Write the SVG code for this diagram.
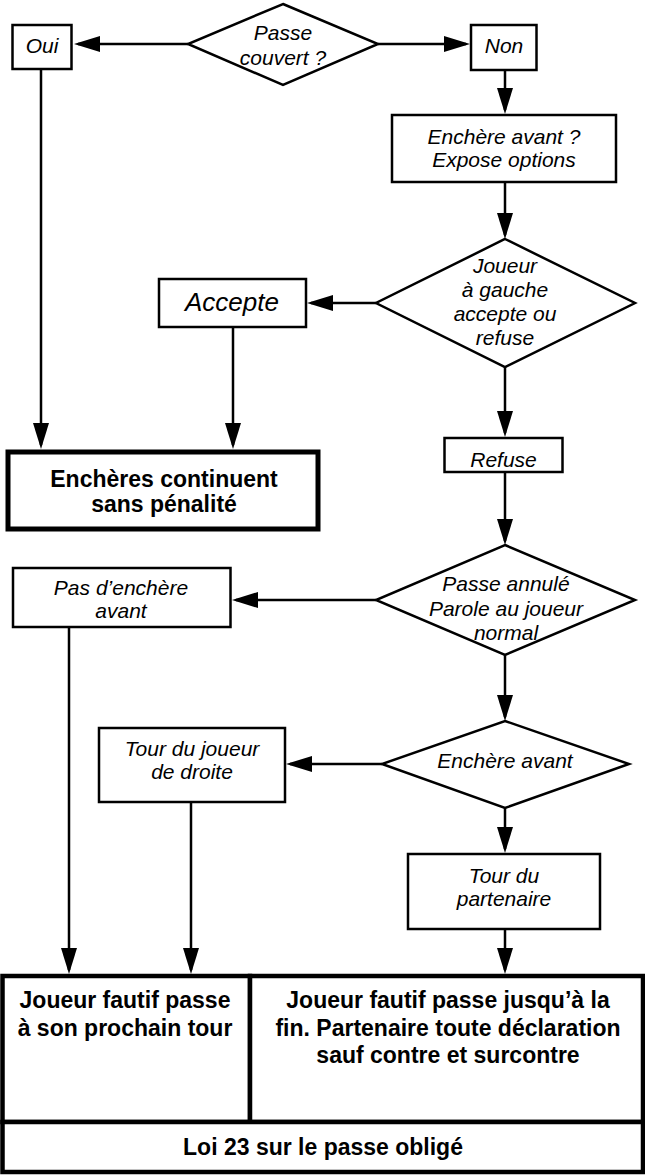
<svg xmlns="http://www.w3.org/2000/svg" width="645" height="1175" viewBox="0 0 645 1175">
<style>
.n{fill:#fff;stroke:#000;stroke-width:2.5}
.t{fill:#fff;stroke:#000;stroke-width:5}
.c{fill:none;stroke:#000;stroke-width:2.5}
text{font-family:"Liberation Sans",Arial,sans-serif;text-anchor:middle;fill:#000}
.i{font-style:italic;font-size:21px}
.b{font-weight:bold;font-size:23px}
</style>
<defs>
<marker id="ah" markerWidth="26" markerHeight="16" refX="22" refY="8" orient="auto" markerUnits="userSpaceOnUse"><path d="M0,0 L26,8 L0,16 z" fill="#000"/></marker>
</defs>
<rect width="645" height="1175" fill="#fff"/>
<g id="connectors" class="c" marker-end="url(#ah)">
<line x1="188" y1="44" x2="78" y2="44"/>
<line x1="378" y1="44" x2="466" y2="44"/>
<line x1="505" y1="71" x2="505" y2="110"/>
<line x1="505" y1="182" x2="505" y2="235"/>
<line x1="376" y1="303" x2="311" y2="303"/>
<line x1="41" y1="70" x2="41" y2="445"/>
<line x1="233" y1="328" x2="233" y2="445"/>
<line x1="505" y1="367" x2="505" y2="433"/>
<line x1="505" y1="473" x2="505" y2="541"/>
<line x1="376" y1="600" x2="236" y2="600"/>
<line x1="505" y1="655" x2="505" y2="717"/>
<line x1="382" y1="764" x2="290" y2="764"/>
<line x1="505" y1="808" x2="505" y2="849"/>
<line x1="69" y1="628" x2="69" y2="970"/>
<line x1="191" y1="803" x2="191" y2="970"/>
<line x1="505" y1="930" x2="505" y2="970"/>
</g>
<g id="passe-couvert"><polygon class="n" points="283,4 378,44 283,85 188,44"/><text class="i" x="283" y="40">Passe</text><text class="i" x="283" y="65">couvert ?</text></g>
<g id="oui"><rect class="n" x="12.5" y="25" width="59" height="44"/><text class="i" x="42" y="53">Oui</text></g>
<g id="non"><rect class="n" x="471" y="25" width="65.5" height="45"/><text class="i" x="504" y="53">Non</text></g>
<g id="expose"><rect class="n" x="392" y="115" width="224" height="67"/><text class="i" x="504" y="144">Enchère avant ?</text><text class="i" x="504" y="167">Expose options</text></g>
<g id="joueur-gauche"><polygon class="n" points="505,239 635,303 505,367 376,303"/><text class="i" x="505" y="273">Joueur</text><text class="i" x="505" y="297">à gauche</text><text class="i" x="505" y="321">accepte ou</text><text class="i" x="505" y="345">refuse</text></g>
<g id="accepte"><rect class="n" x="159" y="279" width="147" height="48"/><text class="i" x="232" y="311" style="font-size:26px">Accepte</text></g>
<g id="continuent"><rect class="t" x="8" y="452" width="310" height="77"/><text class="b" x="164" y="487">Enchères continuent</text><text class="b" x="164" y="512">sans pénalité</text></g>
<g id="refuse"><rect class="n" x="444.5" y="438" width="118" height="34"/><text class="i" x="503.5" y="467">Refuse</text></g>
<g id="passe-annule"><polygon class="n" points="505,545 635,600 505,655 376,600"/><text class="i" x="506" y="591">Passe annulé</text><text class="i" x="506" y="616">Parole au joueur</text><text class="i" x="506" y="640">normal</text></g>
<g id="pas-enchere"><rect class="n" x="13" y="568" width="217.5" height="59"/><text class="i" x="121" y="595">Pas d’enchère</text><text class="i" x="121" y="618">avant</text></g>
<g id="enchere-avant"><polygon class="n" points="505,721 629,764 505,808 382,764"/><text class="i" x="505" y="768">Enchère avant</text></g>
<g id="tour-droite"><rect class="n" x="99" y="728" width="186" height="74"/><text class="i" x="192" y="756">Tour du joueur</text><text class="i" x="192" y="779">de droite</text></g>
<g id="tour-partenaire"><rect class="n" x="408" y="854" width="192" height="75"/><text class="i" x="504" y="883">Tour du</text><text class="i" x="504" y="906">partenaire</text></g>
<g id="prochain-tour"><rect class="t" x="2.5" y="976" width="247.5" height="146" style="stroke-width:4.5"/><text class="b" x="125" y="1008">Joueur fautif passe</text><text class="b" x="125" y="1036">à son prochain tour</text></g>
<g id="jusqu-a-la-fin"><rect class="t" x="250" y="976" width="393" height="146" style="stroke-width:4.5"/><text class="b" x="448" y="1008">Joueur fautif passe jusqu’à la</text><text class="b" x="448" y="1036">fin. Partenaire toute déclaration</text><text class="b" x="448" y="1063">sauf contre et surcontre</text></g>
<g id="loi23"><rect class="t" x="2.5" y="1122" width="640.5" height="50" style="stroke-width:4.5"/><text class="b" x="323" y="1155">Loi 23 sur le passe obligé</text></g>
</svg>
